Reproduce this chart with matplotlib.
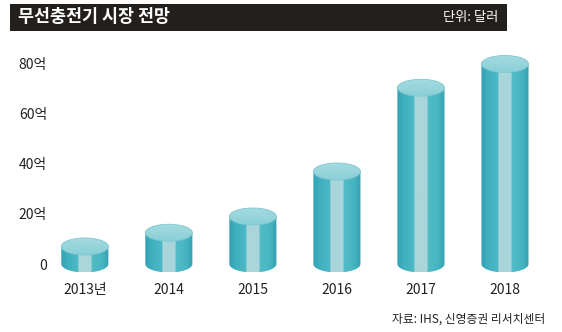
import matplotlib
matplotlib.use('Agg')
import matplotlib.pyplot as plt
import numpy as np
from matplotlib.colors import LinearSegmentedColormap, to_rgb
from matplotlib.patches import Ellipse, PathPatch, Rectangle
from matplotlib.path import Path

plt.rcParams['font.family'] = ['Noto Sans CJK KR', 'DejaVu Sans']

years = ['2013년', '2014', '2015', '2016', '2017', '2018']
market = [7, 12.5, 19, 37, 70.5, 80]          # 억 달러
y_ticks = [0, 20, 40, 60, 80]
y_tick_labels = ['0', '20억', '40억', '60억', '80억']

W, H = 562, 332
fig = plt.figure(figsize=(W / 100, H / 100), dpi=100)
fig.patch.set_facecolor('white')

# header bar
fig.patches.append(Rectangle((10 / W, 1 - 31 / H), 497 / W, 27 / H,
                             transform=fig.transFigure, facecolor='#231f1c',
                             edgecolor='none', zorder=0))
fig.text(18 / W, 1 - 17.5 / H, '무선충전기 시장 전망', color='white',
         fontsize=12.5, fontweight='bold', ha='left', va='center')
fig.text(498 / W, 1 - 17.5 / H, '단위: 달러', color='white',
         fontsize=9.5, ha='right', va='center')
fig.text(545 / W, 1 - 319 / H, '자료: IHS, 신영증권 리서치센터', color='#222222',
         fontsize=8.5, ha='right', va='center')

# axes: x index 0..5, y in 억 달러
ax = fig.add_axes([47 / W, (H - 279) / H, 500 / W, 230 / H])
ax.set_xlim(-0.45, 5.5)
ax.set_ylim(-6, 86)
for s in ax.spines.values():
    s.set_visible(False)
ax.set_facecolor('none')

cyl_w = 0.56       # cylinder width in x units
ell_h = 6.8        # ellipse height in y units

side_cmap = LinearSegmentedColormap.from_list('side', [
    (0.00, '#30a2b3'), (0.12, '#3eafbe'), (0.34, '#4cb8c6'),
    (0.66, '#52bbc8'), (0.85, '#48b5c3'), (1.00, '#35a2b3')])
stripe = np.array(to_rgb('#a9d6da'))

t = np.linspace(0, 1, 240)
grad = side_cmap(t)[:, :3]
grad[(t > 0.36) & (t < 0.64)] = stripe
grad = grad[np.newaxis, :, :]

top_cmap = LinearSegmentedColormap.from_list('top', ['#a3dbe0', '#8bcfd7'])
top_grad = top_cmap(np.linspace(0, 1, 100))[:, np.newaxis, :3]

theta = np.linspace(np.pi, 2 * np.pi, 60)
for i, v in enumerate(market):
    x0, x1 = i - cyl_w / 2, i + cyl_w / 2
    # side outline: left edge down, front arc of the base, right edge up
    arc_x = i + cyl_w / 2 * np.cos(theta)
    arc_y = ell_h / 2 * np.sin(theta)
    verts = [(x0, v)] + list(zip(arc_x, arc_y)) + [(x1, v), (x0, v)]
    side = PathPatch(Path(verts, closed=True), facecolor='none',
                     edgecolor='none', zorder=2)
    ax.add_patch(side)
    im = ax.imshow(grad, extent=(x0, x1, -ell_h / 2, v), aspect='auto',
                   interpolation='bilinear', zorder=2)
    im.set_clip_path(side)
    # top face with a soft vertical shading
    top = Ellipse((i, v), cyl_w, ell_h, facecolor='none',
                  edgecolor='#7fc7d0', lw=0.6, zorder=4)
    ax.add_patch(top)
    tim = ax.imshow(top_grad, extent=(x0, x1, v - ell_h / 2, v + ell_h / 2),
                    aspect='auto', interpolation='bilinear', zorder=3,
                    origin='upper')
    tim.set_clip_path(top)

ax.set_xticks(range(len(years)))
ax.set_xticklabels(years, fontsize=10, color='#222222', fontweight='light')
ax.set_yticks(y_ticks)
ax.set_yticklabels(y_tick_labels, fontsize=10, color='#222222', fontweight='light')
ax.tick_params(axis='both', length=0)
ax.tick_params(axis='x', pad=3)
ax.tick_params(axis='y', pad=0)

fig.savefig('out.png', dpi=100, facecolor='white')
